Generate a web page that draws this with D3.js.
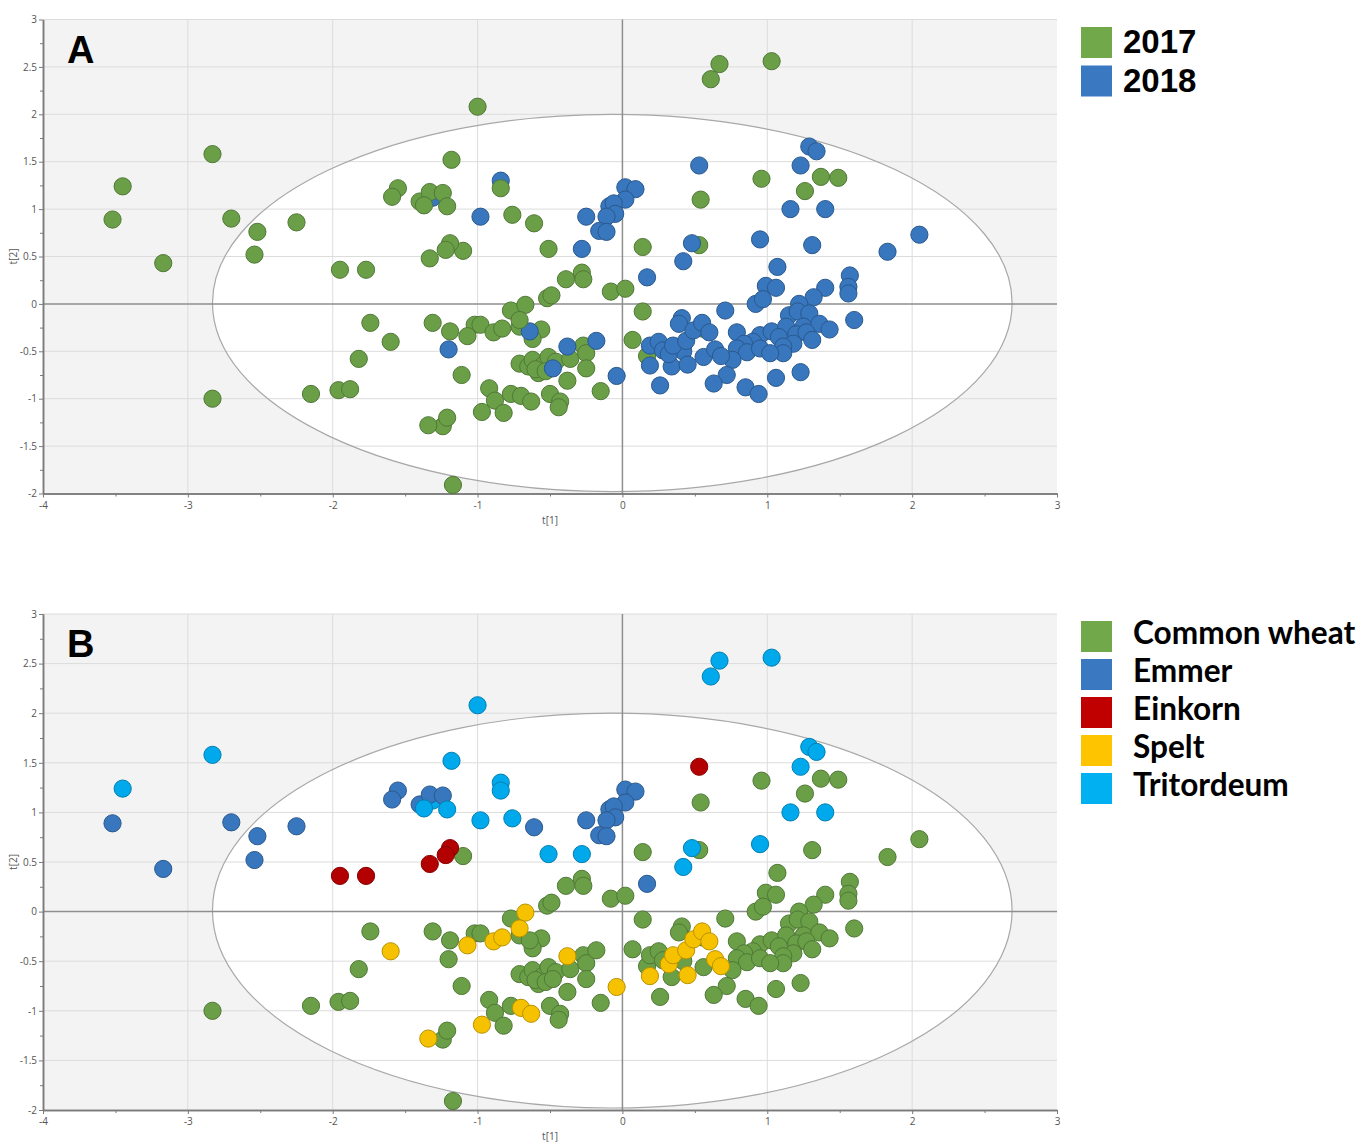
<!DOCTYPE html>
<html>
<head>
<meta charset="utf-8">
<script src="https://cdn.jsdelivr.net/npm/d3@7"></script>
<style>
  body { margin: 0; background: #fff; }
  .tick text { font-family: "Open Sans", "DejaVu Sans", sans-serif; font-size: 10px; fill: #555; }
</style>
</head>
<body>
<svg id="chart" width="1360" height="1142"></svg>
<script>
// scores [t1, t2], grouped by species and harvest year
const commonWheat2017 = [
  [-2.83, -1.00], [-2.15, -0.95], [-1.96, -0.91], [-1.88, -0.90], [-1.82, -0.58], [-1.74, -0.20], [-1.17, -1.91],
  [-1.10, 0.56], [0.96, 1.32], [1.37, 1.34], [1.49, 1.33], [1.26, 1.19], [0.54, 1.10], [0.53, 0.62], [0.14, 0.60],
  [-0.39, 0.26], [-0.28, 0.33], [-0.27, 0.26], [-0.08, 0.13], [0.02, 0.16], [-0.52, 0.06], [-0.49, 0.09], [0.14, -0.08],
  [-0.77, -0.07], [-0.71, -0.24], [-1.31, -0.20], [-1.19, -0.29], [-1.02, -0.22], [-0.98, -0.22], [-1.11, -0.75],
  [-0.56, -0.27], [-0.62, -0.37], [-0.71, -0.63], [-0.65, -0.66], [-0.62, -0.59], [-0.58, -0.73], [-0.55, -0.65],
  [-0.51, -0.56], [-0.46, -0.61], [-0.60, -0.69], [-0.53, -0.71], [-0.36, -0.58], [-0.27, -0.44], [-0.25, -0.52],
  [-0.25, -0.68], [-0.38, -0.81], [-0.15, -0.92], [0.07, -0.38], [0.17, -0.55], [-0.92, -0.89], [-0.88, -1.02],
  [-0.82, -1.15], [-0.77, -0.95], [-0.50, -0.95], [-0.43, -1.03], [-0.44, -1.09], [-1.24, -1.29], [-1.21, -1.20],
  [0.55, -0.26]
];
const commonWheat2018 = [
  [1.31, 0.62], [1.83, 0.55], [2.05, 0.73], [1.07, 0.39], [1.57, 0.30], [1.56, 0.18], [1.56, 0.11], [1.40, 0.17],
  [0.99, 0.19], [1.06, 0.17], [0.92, 0.00], [0.97, 0.05], [1.32, 0.07], [1.22, 0.00],
  [-1.20, -0.48], [-0.64, -0.29], [-0.48, -0.68], [-0.18, -0.39],
  [0.19, -0.44], [0.25, -0.40], [0.28, -0.49], [0.26, -0.86], [0.34, -0.66], [0.42, -0.50], [0.41, -0.15], [0.39, -0.21],
  [0.71, -0.07], [1.60, -0.17], [1.15, -0.12], [1.21, -0.08], [1.29, -0.10],
  [0.79, -0.30], [0.95, -0.33], [1.03, -0.29], [1.13, -0.24], [1.25, -0.24], [1.36, -0.21], [1.43, -0.27],
  [1.20, -0.32], [1.27, -0.30], [1.08, -0.35], [0.90, -0.40],
  [1.31, -0.38], [1.18, -0.42], [1.11, -0.45], [1.11, -0.52], [0.84, -0.42], [0.79, -0.47], [0.86, -0.51],
  [0.95, -0.47], [1.02, -0.52], [0.76, -0.59], [0.56, -0.56], [0.72, -0.75], [0.63, -0.84], [0.85, -0.88],
  [0.94, -0.95], [1.06, -0.78], [1.23, -0.72]
];
const spelt2017 = [
  [-1.60, -0.40], [-1.07, -0.34], [-0.89, -0.30], [-0.83, -0.26], [-0.67, -0.01], [-0.71, -0.17],
  [-1.34, -1.28], [-0.97, -1.14], [-0.70, -0.97], [-0.63, -1.03]
];
const spelt2018 = [
  [-0.38, -0.45], [-0.04, -0.76], [0.19, -0.65], [0.32, -0.53], [0.35, -0.44], [0.44, -0.39], [0.49, -0.28],
  [0.55, -0.20], [0.60, -0.30], [0.45, -0.64], [0.64, -0.48], [0.68, -0.55]
];
const emmer2017 = [
  [-3.52, 0.89], [-2.70, 0.90], [-2.52, 0.76], [-2.54, 0.52], [-2.25, 0.86], [-3.17, 0.43],
  [-1.55, 1.22], [-1.59, 1.13], [-1.40, 1.08], [-1.33, 1.18], [-1.24, 1.17], [-0.61, 0.85]
];
const emmer2018 = [
  [-0.25, 0.92], [0.02, 1.23], [0.09, 1.21], [0.02, 1.10], [-0.09, 1.03], [-0.06, 1.06], [-0.05, 0.95],
  [-0.11, 0.92], [-0.16, 0.77], [-0.11, 0.76], [0.17, 0.28]
];
const einkorn2017 = [[-1.95, 0.36], [-1.77, 0.36], [-1.19, 0.64], [-1.22, 0.57], [-1.33, 0.48]];
const einkorn2018 = [[0.53, 1.46]];
const tritordeum2017 = [
  [-3.45, 1.24], [-2.83, 1.58], [-1.00, 2.08], [-1.18, 1.52], [0.61, 2.37], [0.67, 2.53], [1.03, 2.56],
  [-1.37, 1.04], [-1.21, 1.03], [-0.84, 1.22], [-0.76, 0.94], [-0.51, 0.58]
];
const tritordeum2018 = [
  [-0.84, 1.30], [-0.98, 0.92], [-0.28, 0.58], [-1.31, 1.12], [1.29, 1.66], [1.34, 1.61], [1.23, 1.46],
  [1.16, 1.00], [1.40, 1.00], [0.48, 0.64], [0.95, 0.68], [0.42, 0.45]
];

const xTicks = [-4, -3, -2, -1, 0, 1, 2, 3];
const yTicks = [3, 2.5, 2, 1.5, 1, 0.5, 0, -0.5, -1, -1.5, -2];
const years = ["2017", "2018"];
const species = ["Common wheat", "Emmer", "Einkorn", "Spelt", "Tritordeum"];
// Hotelling T2 ellipse extent
const ellipseT1 = [-2.83, 2.69];
const ellipseT2 = [-1.98, 2.0];

const yearColor = { "2017": "#6a9f48", "2018": "#3876bd" };
const speciesColor = {
  "Common wheat": "#6a9f48", "Emmer": "#3876bd", "Einkorn": "#b30000",
  "Spelt": "#f6c200", "Tritordeum": "#00a9ec"
};
const legendFill = {
  "2017": "#70a84a", "2018": "#3a78c2",
  "Common wheat": "#70a84a", "Emmer": "#3a78c2", "Einkorn": "#c00000", "Spelt": "#ffc400", "Tritordeum": "#00b0f0"
};

// draw order roughly as in the original plot
const groups = [
  { pts: commonWheat2017, sp: "Common wheat", yr: "2017" },
  { pts: commonWheat2018, sp: "Common wheat", yr: "2018" },
  { pts: spelt2018, sp: "Spelt", yr: "2018" },
  { pts: emmer2018, sp: "Emmer", yr: "2018" },
  { pts: einkorn2018, sp: "Einkorn", yr: "2018" },
  { pts: tritordeum2018, sp: "Tritordeum", yr: "2018" },
  { pts: spelt2017, sp: "Spelt", yr: "2017" },
  { pts: emmer2017, sp: "Emmer", yr: "2017" },
  { pts: einkorn2017, sp: "Einkorn", yr: "2017" },
  { pts: tritordeum2017, sp: "Tritordeum", yr: "2017" }
];

const svg = d3.select("#chart");
const x = d3.scaleLinear().domain([-4, 3]).range([43, 1057]);

function drawPanel(top, bottom, letter, colorOf) {
  const y = d3.scaleLinear().domain([-2, 3]).range([bottom, top]);
  const g = svg.append("g");

  g.append("rect")
    .attr("x", x(-4)).attr("y", y(3))
    .attr("width", x(3) - x(-4)).attr("height", y(-2) - y(3))
    .attr("fill", "#f3f3f3");

  const ecx = (x(ellipseT1[0]) + x(ellipseT1[1])) / 2;
  const ecy = (y(ellipseT2[0]) + y(ellipseT2[1])) / 2;
  const erx = (x(ellipseT1[1]) - x(ellipseT1[0])) / 2;
  const ery = (y(ellipseT2[0]) - y(ellipseT2[1])) / 2;
  g.append("ellipse")
    .attr("cx", ecx).attr("cy", ecy).attr("rx", erx).attr("ry", ery)
    .attr("fill", "#fff");

  // grid
  g.selectAll(".vgrid").data(xTicks.filter(d => d > -4 && d < 3 && d !== 0)).join("line")
    .attr("x1", d => x(d)).attr("x2", d => x(d))
    .attr("y1", y(3)).attr("y2", y(-2))
    .attr("stroke", "#dcdcdc").attr("stroke-width", 1);
  g.selectAll(".hgrid").data(yTicks.filter(d => d > -2 && d !== 0)).join("line")
    .attr("x1", x(-4)).attr("x2", x(3))
    .attr("y1", d => y(d)).attr("y2", d => y(d))
    .attr("stroke", "#dcdcdc").attr("stroke-width", 1);

  g.append("ellipse")
    .attr("cx", ecx).attr("cy", ecy).attr("rx", erx).attr("ry", ery)
    .attr("fill", "none").attr("stroke", "#a8a8a8").attr("stroke-width", 1.2);

  // zero lines
  g.append("line").attr("x1", x(0)).attr("x2", x(0)).attr("y1", y(3)).attr("y2", y(-2))
    .attr("stroke", "#8e8e8e").attr("stroke-width", 1.5);
  g.append("line").attr("x1", x(-4)).attr("x2", x(3)).attr("y1", y(0)).attr("y2", y(0))
    .attr("stroke", "#8e8e8e").attr("stroke-width", 1.5);

  // axes
  const yAxis = g.append("g").attr("transform", `translate(${x(-4)},0)`)
    .call(d3.axisLeft(y).tickValues(yTicks).tickSize(4).tickSizeOuter(0).tickPadding(2).tickFormat(d => String(d)));
  const yMinor = g.append("g").attr("transform", `translate(${x(-4)},0)`)
    .call(d3.axisLeft(y).tickValues(d3.range(-1.75, 3, 0.5)).tickSize(3).tickSizeOuter(0).tickFormat(""));
  const xAxis = g.append("g").attr("transform", `translate(0,${y(-2)})`)
    .call(d3.axisBottom(x).tickValues(xTicks).tickSize(4).tickSizeOuter(0).tickPadding(4).tickFormat(d => String(d)));
  const xMinor = g.append("g").attr("transform", `translate(0,${y(-2)})`)
    .call(d3.axisBottom(x).tickValues(d3.range(-3.5, 3, 1)).tickSize(3).tickSizeOuter(0).tickFormat(""));
  [yAxis, yMinor, xAxis, xMinor].forEach(a => {
    a.select(".domain").attr("stroke", "#7a7a7a").attr("stroke-width", 1.5);
    a.selectAll(".tick line").attr("stroke", "#7a7a7a");
  });

  g.append("text")
    .attr("transform", `translate(17,${(y(3) + y(-2)) / 2}) rotate(-90)`)
    .attr("text-anchor", "middle")
    .style("font-family", "'Open Sans', sans-serif").style("font-size", "10px").style("fill", "#555")
    .text("t[2]");
  g.append("text")
    .attr("x", 550).attr("y", y(-2) + 30)
    .attr("text-anchor", "middle")
    .style("font-family", "'Open Sans', sans-serif").style("font-size", "10px").style("fill", "#555")
    .text("t[1]");

  // points
  groups.forEach(grp => {
    const c = colorOf(grp);
    g.selectAll(null).data(grp.pts).join("circle")
      .attr("cx", d => x(d[0])).attr("cy", d => y(d[1]))
      .attr("r", 8.6)
      .attr("fill", c)
      .attr("stroke", d3.color(c).darker(0.8))
      .attr("stroke-width", 1);
  });

  g.append("text")
    .attr("x", 67).attr("y", y(3) + 43)
    .style("font-family", "'Liberation Sans', Arial, sans-serif")
    .style("font-weight", "bold").style("font-size", "38px").style("fill", "#000")
    .text(letter);
}

drawPanel(19.5, 493.5, "A", grp => yearColor[grp.yr]);
drawPanel(614, 1110, "B", grp => speciesColor[grp.sp]);

// legend A
const legA = svg.append("g");
years.forEach((yr, i) => {
  legA.append("rect").attr("x", 1081).attr("y", 27 + i * 38.5).attr("width", 31).attr("height", 31)
    .attr("fill", legendFill[yr]);
  legA.append("text").attr("x", 1123).attr("y", 53 + i * 38.5)
    .style("font-family", "'Liberation Sans', Arial, sans-serif")
    .style("font-weight", "bold").style("font-size", "33px").style("fill", "#000")
    .text(yr);
});

// legend B
const legB = svg.append("g");
species.forEach((sp, i) => {
  legB.append("rect").attr("x", 1081).attr("y", 621 + i * 38).attr("width", 31).attr("height", 31)
    .attr("fill", legendFill[sp]);
});
const legTexts = legB.selectAll("text.leg").data(species).join("text")
  .attr("class", "leg")
  .attr("x", 1133).attr("y", (d, i) => 644 + i * 38)
  .style("font-family", "Lato, 'Open Sans', sans-serif")
  .style("font-weight", "bold").style("font-size", "32px").style("fill", "#000")
  .text(d => d);
const w0 = legTexts.filter(d => d === "Common wheat").node().getComputedTextLength();
legTexts.style("font-size", (32 * 222 / w0).toFixed(1) + "px");
</script>
</body>
</html>
